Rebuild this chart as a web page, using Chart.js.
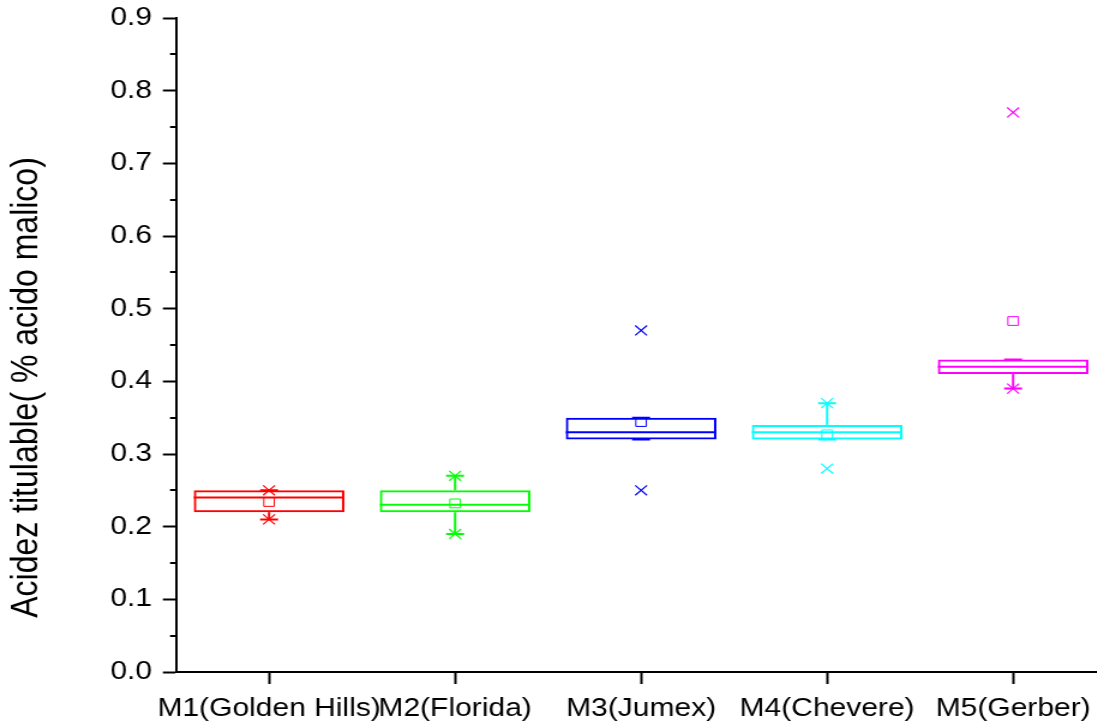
<!DOCTYPE html>
<html>
<head>
<meta charset="utf-8">
<script src="https://cdn.jsdelivr.net/npm/chart.js@4.4.1/dist/chart.umd.min.js"></script>
<style>
  html, body { margin: 0; padding: 0; background: #fff; overflow: hidden; }
  #wrap { width: 914px; height: 723px; transform: scaleX(1.2); transform-origin: 0 0; }
</style>
</head>
<body>
<div id="wrap"><canvas id="c" width="914" height="723"></canvas></div>
<script>
// Sample brands and their titratable-acidity statistics (% malic acid)
const categories = ['M1(Golden Hills)', 'M2(Florida)', 'M3(Jumex)', 'M4(Chevere)', 'M5(Gerber)'];
const q1Values     = [0.22, 0.22, 0.32, 0.32, 0.41];
const medianValues = [0.24, 0.23, 0.33, 0.33, 0.42];
const q3Values     = [0.25, 0.25, 0.35, 0.34, 0.43];
const meanValues   = [0.234, 0.232, 0.344, 0.327, 0.483];
const minValues    = [0.21, 0.19, 0.32, 0.32, 0.39];
const maxValues    = [0.25, 0.27, 0.35, 0.37, 0.43];
const p1Values     = [0.21, 0.19, 0.25, 0.28, 0.39];
const p99Values    = [0.25, 0.27, 0.47, 0.37, 0.77];
const yTickValues  = [0, 0.1, 0.2, 0.3, 0.4, 0.5, 0.6, 0.7, 0.8, 0.9];
const boxColors    = ['#ff0000', '#00ff00', '#0000ff', '#00ffff', '#ff00ff'];

const yTitle = 'Acidez titulable( % acido malico)';
const fontFamily = "'Liberation Sans', Arial, sans-serif";

const pts = (arr) => arr.map((v, i) => ({ x: i, y: v }));

// Medians, whiskers, minor y ticks and the rotated y title
const boxExtras = {
  id: 'boxExtras',
  afterDatasetDraw(chart, args) {
    if (args.index !== 0) return;
    const { ctx, scales: { x, y } } = chart;
    const meta = chart.getDatasetMeta(0);
    ctx.save();
    categories.forEach((c, i) => {
      const bar = meta.data[i];
      const half = bar.width / 2;
      const cx = x.getPixelForValue(i);
      ctx.strokeStyle = boxColors[i];
      ctx.lineWidth = 2;
      // median
      const my = y.getPixelForValue(medianValues[i]);
      ctx.beginPath();
      ctx.moveTo(cx - half, my);
      ctx.lineTo(cx + half, my);
      ctx.stroke();
      // whiskers
      ctx.beginPath();
      ctx.moveTo(cx, y.getPixelForValue(q3Values[i]));
      ctx.lineTo(cx, y.getPixelForValue(maxValues[i]));
      ctx.moveTo(cx, y.getPixelForValue(q1Values[i]));
      ctx.lineTo(cx, y.getPixelForValue(minValues[i]));
      ctx.stroke();
    });
    ctx.restore();
  },
  afterDraw(chart) {
    const { ctx, scales: { y } } = chart;
    ctx.save();
    // minor ticks between labelled ones
    ctx.strokeStyle = '#000';
    ctx.lineWidth = 2;
    ctx.beginPath();
    for (let k = 0; k < yTickValues.length - 1; k++) {
      const v = (yTickValues[k] + yTickValues[k + 1]) / 2;
      const py = Math.round(y.getPixelForValue(v));
      ctx.moveTo(y.right - 5, py);
      ctx.lineTo(y.right, py);
    }
    ctx.stroke();
    // axis title
    ctx.fillStyle = '#000';
    ctx.font = '32px ' + fontFamily;
    ctx.textAlign = 'center';
    ctx.textBaseline = 'alphabetic';
    ctx.translate(31, 387.5);
    ctx.rotate(-Math.PI / 2);
    ctx.fillText(yTitle, 0, 0);
    ctx.restore();
  }
};

const markerSet = (data, style, radius, width) => ({
  type: 'scatter',
  data: pts(data),
  pointStyle: style,
  pointRadius: radius,
  pointHoverRadius: radius,
  pointBorderWidth: width,
  pointBorderColor: boxColors,
  pointBackgroundColor: 'rgba(0,0,0,0)',
  showLine: false
});

new Chart(document.getElementById('c'), {
  type: 'bar',
  data: {
    datasets: [
      {
        type: 'bar',
        data: categories.map((c, i) => ({ x: i, y: [q1Values[i], q3Values[i]] })),
        backgroundColor: 'rgba(0,0,0,0)',
        borderColor: boxColors,
        borderWidth: 2,
        borderSkipped: false,
        categoryPercentage: 0.81,
        barPercentage: 1
      },
      markerSet(meanValues, 'rect', 6.2, 1),
      markerSet(minValues, 'line', 7.5, 2),
      markerSet(maxValues, 'line', 7.5, 2),
      markerSet(p1Values, 'crossRot', 7, 1.2),
      markerSet(p99Values, 'crossRot', 7, 1.2)
    ]
  },
  options: {
    responsive: false,
    animation: false,
    events: [],
    layout: { autoPadding: false, padding: { top: 18, left: 0, right: 0, bottom: 0 } },
    plugins: { legend: { display: false }, tooltip: { enabled: false } },
    scales: {
      x: {
        type: 'linear',
        min: -0.5,
        max: 4.45,
        offset: false,
        afterBuildTicks: (s) => { s.ticks = categories.map((c, i) => ({ value: i })); },
        afterFit: (s) => { s.height = 51; s.paddingLeft = 0; s.paddingRight = 0; },
        ticks: {
          callback: (v) => categories[v] ?? '',
          font: { family: fontFamily, size: 25 },
          color: '#000',
          maxRotation: 0,
          minRotation: 0,
          autoSkip: false,
          padding: 10
        },
        grid: { drawOnChartArea: false, offset: false, tickLength: 12, tickWidth: 2, tickColor: '#000' },
        border: { color: '#000', width: 2 }
      },
      y: {
        min: 0,
        max: 0.9,
        afterBuildTicks: (s) => { s.ticks = yTickValues.map((v) => ({ value: v })); },
        afterFit: (s) => { s.width = 146.7; s.paddingTop = 0; s.paddingBottom = 0; },
        ticks: {
          callback: (v) => v.toFixed(1),
          font: { family: fontFamily, size: 25 },
          color: '#000',
          padding: 9
        },
        grid: { drawOnChartArea: false, tickLength: 11, tickWidth: 2, tickColor: '#000' },
        border: { color: '#000', width: 2 }
      }
    }
  },
  plugins: [boxExtras]
});
</script>
</body>
</html>
